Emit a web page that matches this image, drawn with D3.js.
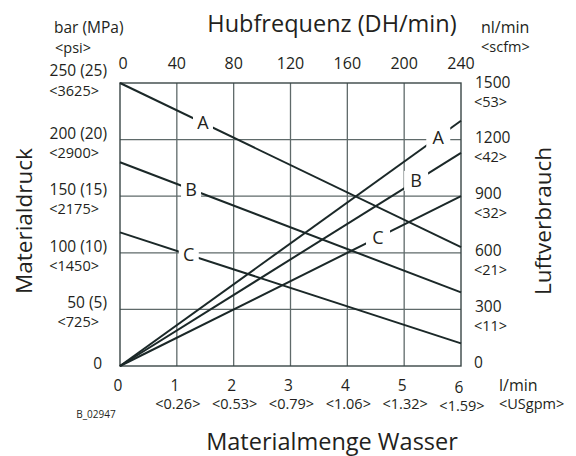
<!DOCTYPE html>
<html>
<head>
<meta charset="utf-8">
<script src="https://cdn.jsdelivr.net/npm/d3@7"></script>
<style>
  body { margin: 0; background: #fff; }
  svg text { font-family: "Open Sans", sans-serif; fill: #231f20; }
</style>
</head>
<body>
<svg id="chart" width="576" height="456"></svg>
<script>
/***************************************************************
    Data
****************************************************************/
const flowTicks = [0, 1, 2, 3, 4, 5, 6];
const flowUsgpm = ["", "<0.26>", "<0.53>", "<0.79>", "<1.06>", "<1.32>", "<1.59>"];
const cycleTicks = [0, 40, 80, 120, 160, 200, 240];
const pressureTicks = [0, 50, 100, 150, 200, 250];
const pressureMpa = [0, 5, 10, 15, 20, 25];
const pressurePsi = ["", "<725>", "<1450>", "<2175>", "<2900>", "<3625>"];
const airTicks = [0, 300, 600, 900, 1200, 1500];
const airScfm = ["", "<11>", "<21>", "<32>", "<42>", "<53>"];

const curveNames = ["A", "B", "C"];
// pressure (bar) at 0 and 6 l/min
const pressureA = [[0, 250], [6, 105]];
const pressureB = [[0, 180], [6, 65]];
const pressureC = [[0, 118], [6, 20]];
// air consumption (nl/min) at 0 and 6 l/min
const airA = [[0, 0], [6, 1300]];
const airB = [[0, 0], [6, 1130]];
const airC = [[0, 0], [6, 900]];

/***************************************************************
    Scales
****************************************************************/
const svg = d3.select("#chart");
const x = d3.scaleLinear().domain([0, 6]).range([120, 461]);
const xTop = d3.scaleLinear().domain([0, 240]).range([120, 461]);
const yP = d3.scaleLinear().domain([0, 250]).range([366, 83]);
const yA = d3.scaleLinear().domain([0, 1500]).range([366, 83]);

const gridColor = "#5f6a6a";
const lineColor = "#1b2828";

/***************************************************************
    Grid
****************************************************************/
const grid = svg.append("g");
grid.selectAll("line.v").data(flowTicks.slice(1, -1)).enter().append("line")
    .attr("x1", d => x(d)).attr("x2", d => x(d))
    .attr("y1", yP(250)).attr("y2", yP(0))
    .attr("stroke", gridColor).attr("stroke-width", 1.3);
grid.selectAll("line.h").data(pressureTicks.slice(1, -1)).enter().append("line")
    .attr("x1", x(0)).attr("x2", x(6))
    .attr("y1", d => yP(d)).attr("y2", d => yP(d))
    .attr("stroke", gridColor).attr("stroke-width", 1.3);
grid.append("rect")
    .attr("x", x(0)).attr("y", yP(250))
    .attr("width", x(6) - x(0)).attr("height", yP(0) - yP(250))
    .attr("fill", "none").attr("stroke", "#3a4646").attr("stroke-width", 1.4);

/***************************************************************
    Curves
****************************************************************/
const pLine = d3.line().x(d => x(d[0])).y(d => yP(d[1]));
const aLine = d3.line().x(d => x(d[0])).y(d => yA(d[1]));

[pressureA, pressureB, pressureC].forEach(s => {
    svg.append("path").attr("d", pLine(s)).attr("fill", "none")
        .attr("stroke", lineColor).attr("stroke-width", 2);
});
[airA, airB, airC].forEach(s => {
    svg.append("path").attr("d", aLine(s)).attr("fill", "none")
        .attr("stroke", lineColor).attr("stroke-width", 2);
});

// label a straight segment at a given flow value, with a white gap behind it
function valueAt(s, f) {
    return s[0][1] + (s[1][1] - s[0][1]) * (f - s[0][0]) / (s[1][0] - s[0][0]);
}
function curveLabel(name, cx, cy, w, h) {
    svg.append("rect").attr("x", cx - w / 2).attr("y", cy - h / 2)
        .attr("width", w).attr("height", h).attr("fill", "#fff");
    svg.append("text").attr("x", cx).attr("y", cy + 6.5)
        .attr("text-anchor", "middle").attr("font-size", 18).text(name);
}
const pLabelAt = [1.46, 1.25, 1.21];
const aLabelAt = [5.6, 5.21, 4.54];
[pressureA, pressureB, pressureC].forEach((s, i) => {
    curveLabel(curveNames[i], x(pLabelAt[i]), yP(valueAt(s, pLabelAt[i])), 20, 18);
});
[airA, airB, airC].forEach((s, i) => {
    curveLabel(curveNames[i], x(aLabelAt[i]), yA(valueAt(s, aLabelAt[i])), 24, 20);
});

/***************************************************************
    Tick labels
****************************************************************/
// top: cycle rate
svg.selectAll("text.top").data(cycleTicks).enter().append("text")
    .attr("x", d => xTop(d) + (d === 0 ? 3 : 0)).attr("y", 69)
    .attr("text-anchor", "middle").attr("font-size", 16).text(d => d);

// bottom: flow
svg.selectAll("text.bot").data(flowTicks).enter().append("text")
    .attr("x", d => x(d) - 2).attr("y", d => d === 6 ? 393 : 391)
    .attr("text-anchor", "middle").attr("font-size", 15.5).text(d => d);
svg.selectAll("text.bot2").data(flowTicks).enter().append("text")
    .attr("x", d => x(d) + 1).attr("y", d => d === 6 ? 411 : 409)
    .attr("text-anchor", "middle").attr("font-size", 14.5).text((d, i) => flowUsgpm[i]);

// left: pressure
svg.selectAll("text.left").data(pressureTicks).enter().append("text")
    .attr("x", d => d === 0 ? 102 : 107)
    .attr("y", d => yP(d) + (d === 0 ? 3 : d === 250 ? -7 : -1))
    .attr("text-anchor", "end").attr("font-size", 15.5)
    .text((d, i) => d === 0 ? "0" : d + " (" + pressureMpa[i] + ")");
svg.selectAll("text.left2").data(pressureTicks).enter().append("text")
    .attr("x", 99)
    .attr("y", d => yP(d) + (d === 250 ? 13 : 18))
    .attr("text-anchor", "end").attr("font-size", 14.5)
    .text((d, i) => pressurePsi[i]);

// right: air consumption
svg.selectAll("text.right").data(airTicks).enter().append("text")
    .attr("x", d => d === 0 ? 474 : 475)
    .attr("y", d => yA(d) + (d === 0 ? 2 : d === 1500 ? 5 : 3))
    .attr("font-size", 15.5).text(d => d);
svg.selectAll("text.right2").data(airTicks).enter().append("text")
    .attr("x", 474)
    .attr("y", d => yA(d) + (d === 1500 ? 24 : 22))
    .attr("font-size", 14.5).text((d, i) => airScfm[i]);

/***************************************************************
    Axis titles and units
****************************************************************/
svg.append("text").attr("x", 332).attr("y", 32).attr("text-anchor", "middle")
    .attr("font-size", 23.5).text("Hubfrequenz (DH/min)");
svg.append("text").attr("x", 332).attr("y", 450).attr("text-anchor", "middle")
    .attr("font-size", 23.5).text("Materialmenge Wasser");
svg.append("text").attr("transform", "translate(32,221) rotate(-90)")
    .attr("text-anchor", "middle").attr("font-size", 22.5).text("Materialdruck");
svg.append("text").attr("transform", "translate(551,221) rotate(-90)")
    .attr("text-anchor", "middle").attr("font-size", 22.5).text("Luftverbrauch");

svg.append("text").attr("x", 54).attr("y", 33).attr("font-size", 15.5).text("bar (MPa)");
svg.append("text").attr("x", 55).attr("y", 53).attr("font-size", 14.5).text("<psi>");
svg.append("text").attr("x", 481).attr("y", 33).attr("font-size", 16).text("nl/min");
svg.append("text").attr("x", 481).attr("y", 52).attr("font-size", 14.5).text("<scfm>");
svg.append("text").attr("x", 499).attr("y", 391).attr("font-size", 16).text("l/min");
svg.append("text").attr("x", 499).attr("y", 409).attr("font-size", 14.5).text("<USgpm>");
svg.append("text").attr("x", 96).attr("y", 418).attr("text-anchor", "middle")
    .attr("font-size", 10).text("B_02947");
</script>
</body>
</html>
